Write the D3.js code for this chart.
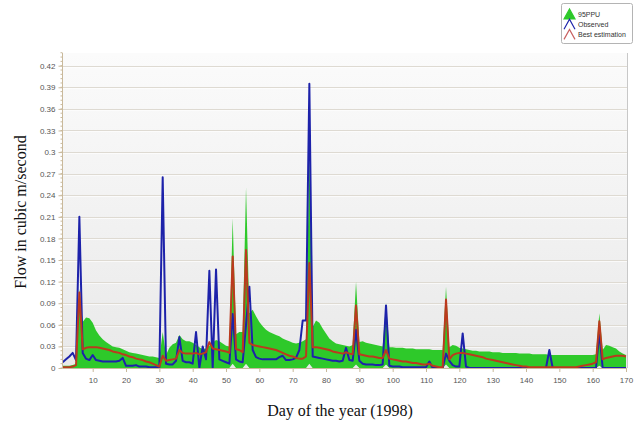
<!DOCTYPE html>
<html><head><meta charset="utf-8">
<script src="https://cdn.jsdelivr.net/npm/d3@7"></script>
<style>body{margin:0;background:#fff}svg{display:block}</style>
</head><body>
<svg id="c" width="636" height="423"></svg>
<script>
// Day of year 1..170
const days = d3.range(1, 171);
const observed = [
0.008,0.012,0.016,0.021,0.011,0.21,0.021,0.013,0.011,0.018,
0.011,0.010,0.009,0.009,0.009,0.009,0.009,0.010,0.014,0.003,
0.003,0.003,0.004,0.002,0.002,0.002,0.001,0.001,0.001,0.001,
0.265,0.006,0.005,0.005,0.010,0.043,0.010,0.008,0.008,0.006,
0.050,0.000,0.030,0.012,0.135,0.000,0.137,0.012,0.010,0.008,
0.006,0.075,0.012,0.009,0.008,0.060,0.113,0.025,0.015,0.013,
0.012,0.012,0.012,0.012,0.012,0.015,0.017,0.011,0.011,0.012,
0.014,0.025,0.066,0.066,0.395,0.016,0.015,0.014,0.013,0.012,
0.011,0.010,0.010,0.009,0.010,0.028,0.011,0.010,0.053,0.010,
0.006,0.005,0.005,0.005,0.004,0.004,0.005,0.087,0.003,0.002,
0.002,0.002,0.001,0.001,0.001,0.001,0.001,0.001,0.001,0.001,
0.009,0.000,0.000,0.000,0.000,0.020,0.010,0.004,0.002,0.002,
0.048,0.002,0.000,0.000,0.000,0.000,0.000,0.000,0.000,0.000,
0.000,0.000,0.000,0.000,0.000,0.000,0.000,0.000,0.000,0.000,
0.000,0.000,0.000,0.000,0.000,0.000,0.025,0.000,0.000,0.000,
0.000,0.000,0.000,0.000,0.000,0.000,0.000,0.000,0.000,0.000,
0.000,0.050,0.000,0.000,0.000,0.000,0.000,0.000,0.000,0.000];
const bestEstimation = [
0.001,0.001,0.001,0.002,0.004,0.105,0.026,0.028,0.029,0.029,
0.029,0.028,0.027,0.026,0.025,0.023,0.022,0.021,0.019,0.018,
0.016,0.015,0.013,0.012,0.011,0.009,0.008,0.006,0.004,0.002,
0.017,0.010,0.011,0.012,0.013,0.025,0.021,0.020,0.020,0.020,
0.021,0.019,0.020,0.022,0.036,0.027,0.026,0.025,0.024,0.023,
0.021,0.155,0.026,0.025,0.022,0.164,0.035,0.032,0.031,0.030,
0.029,0.028,0.027,0.026,0.025,0.023,0.021,0.019,0.017,0.016,
0.014,0.013,0.013,0.016,0.146,0.029,0.029,0.028,0.027,0.026,
0.025,0.023,0.022,0.021,0.020,0.022,0.020,0.019,0.087,0.019,
0.018,0.017,0.016,0.016,0.015,0.014,0.014,0.025,0.013,0.012,
0.011,0.010,0.009,0.009,0.008,0.007,0.007,0.006,0.005,0.005,
0.006,0.003,0.002,0.001,0.001,0.095,0.012,0.018,0.020,0.021,
0.021,0.020,0.019,0.018,0.017,0.016,0.015,0.013,0.012,0.011,
0.010,0.009,0.008,0.007,0.006,0.005,0.004,0.003,0.002,0.002,
0.001,0.001,0.001,0.001,0.001,0.001,0.001,0.001,0.001,0.001,
0.001,0.001,0.001,0.001,0.001,0.002,0.003,0.004,0.005,0.006,
0.008,0.065,0.012,0.014,0.015,0.016,0.017,0.017,0.017,0.016];
const ppuUpper = [
0.003,0.003,0.003,0.004,0.006,0.110,0.064,0.070,0.069,0.063,
0.052,0.045,0.040,0.036,0.033,0.030,0.029,0.028,0.026,0.024,
0.022,0.021,0.020,0.019,0.018,0.017,0.016,0.016,0.015,0.014,
0.050,0.018,0.028,0.033,0.035,0.046,0.040,0.037,0.037,0.035,
0.032,0.029,0.026,0.027,0.031,0.035,0.039,0.037,0.034,0.031,
0.030,0.208,0.047,0.050,0.050,0.251,0.076,0.081,0.072,0.064,
0.058,0.053,0.050,0.048,0.046,0.044,0.041,0.039,0.037,0.035,
0.034,0.035,0.037,0.040,0.300,0.057,0.066,0.063,0.055,0.048,
0.041,0.037,0.034,0.033,0.032,0.031,0.030,0.032,0.120,0.036,
0.037,0.035,0.034,0.033,0.032,0.031,0.030,0.090,0.029,0.029,
0.028,0.028,0.028,0.027,0.027,0.027,0.026,0.026,0.026,0.026,
0.026,0.025,0.025,0.025,0.025,0.113,0.029,0.032,0.031,0.028,
0.027,0.026,0.025,0.024,0.024,0.023,0.023,0.023,0.023,0.022,
0.022,0.022,0.021,0.021,0.021,0.021,0.021,0.020,0.020,0.020,
0.020,0.019,0.019,0.019,0.019,0.019,0.018,0.018,0.018,0.018,
0.018,0.018,0.018,0.018,0.018,0.018,0.018,0.018,0.018,0.018,
0.019,0.076,0.025,0.032,0.031,0.029,0.027,0.023,0.020,0.018];
const ppuLower = [
0,0,0,0,0,0,0,0,0,0, 0,0,0,0,0,0,0,0,0,0,
0,0,0,0,0,0,0,0,0,0, 0,0,0,0,0,0,0,0,0,0,
0,0,0,0,0,0,0,0,0,0, 0,0.006,0,0,0,0.006,0,0,0,0,
0,0,0,0,0,0,0,0,0,0, 0,0,0,0,0.006,0,0,0,0,0,
0,0,0,0,0,0,0,0,0.005,0, 0,0,0,0,0,0,0,0.005,0,0,
0,0,0,0,0,0,0,0,0,0, 0,0,0,0,0,0.005,0,0,0,0,
0,0,0,0,0,0,0,0,0,0, 0,0,0,0,0,0,0,0,0,0,
0,0,0,0,0,0,0,0,0,0, 0,0,0,0,0,0,0,0,0,0,
0,0.003,0,0,0,0,0,0,0,0];
const yTicks = [0,0.03,0.06,0.09,0.12,0.15,0.18,0.21,0.24,0.27,0.3,0.33,0.36,0.39,0.42];
const xTicks = [10,20,30,40,50,60,70,80,90,100,110,120,130,140,150,160,170];
const legendItems = ["95PPU","Observed","Best estimation"];

const svg = d3.select("#c");
const L = 62.5, R = 627, T = 53, B = 368;
const x = d3.scaleLinear().domain([1,170]).range([62.7,626]);
const y = d3.scaleLinear().domain([0,0.42]).range([B,65.7]);

const defs = svg.append("defs");
const g = defs.append("linearGradient").attr("id","bg").attr("x1",0).attr("y1",0).attr("x2",0).attr("y2",1);
g.append("stop").attr("offset","0%").attr("stop-color","#fbfbfb");
g.append("stop").attr("offset","100%").attr("stop-color","#e9e9e9");
defs.append("clipPath").attr("id","clip").append("rect").attr("x",L).attr("y",T).attr("width",R-L).attr("height",B-T+1);

svg.append("rect").attr("x",L).attr("y",T).attr("width",R-L).attr("height",B-T).attr("fill","url(#bg)");

// grid
svg.append("g").selectAll("line").data(yTicks.filter(d=>d>0)).join("line")
  .attr("x1",L).attr("x2",R).attr("y1",d=>Math.round(y(d))+0.5).attr("y2",d=>Math.round(y(d))+0.5)
  .attr("stroke","#dedad2").attr("stroke-width",1);
svg.append("g").selectAll("line").data(yTicks.filter(d=>d>0)).join("line")
  .attr("x1",L).attr("x2",R).attr("y1",d=>Math.round(y(d))+1.5).attr("y2",d=>Math.round(y(d))+1.5)
  .attr("stroke","#ffffff").attr("stroke-width",1).attr("opacity",0.7);

const plot = svg.append("g").attr("clip-path","url(#clip)");
const band = days.map((d,i)=>({d, lo: ppuLower[i], hi: ppuUpper[i]}));
plot.append("path").datum(band)
  .attr("d", d3.area().x(p=>x(p.d)).y0(p=>y(p.lo)).y1(p=>y(p.hi)))
  .attr("fill","#2ec92a");
plot.append("path").datum(days.map((d,i)=>[d,observed[i]]))
  .attr("d", d3.line().x(p=>x(p[0])).y(p=>y(p[1])))
  .attr("fill","none").attr("stroke","#1d22aa").attr("stroke-width",2).attr("stroke-linejoin","round");
plot.append("path").datum(days.map((d,i)=>[d,bestEstimation[i]]))
  .attr("d", d3.line().x(p=>x(p[0])).y(p=>y(p[1])))
  .attr("fill","none").attr("stroke","#bb3a1e").attr("stroke-width",2).attr("stroke-linejoin","round");

// axes
const axisColor = "#c9b99b";
const yAxis = svg.append("g").attr("transform",`translate(${L},0)`)
  .call(d3.axisLeft(y).tickValues(yTicks).tickSize(4).tickFormat(d=>String(+d.toFixed(2))));
const xAxis = svg.append("g").attr("transform",`translate(0,${B})`)
  .call(d3.axisBottom(x).tickValues(xTicks).tickSize(4).tickFormat(d=>d));
[yAxis,xAxis].forEach(a=>{
  a.select(".domain").remove();
  a.selectAll(".tick line").attr("stroke",axisColor);
  a.selectAll(".tick text").attr("fill","#555").style("font-family","'Liberation Sans',Arial,sans-serif").style("font-size","8px");
});
yAxis.selectAll(".tick text").attr("x",-7);
xAxis.selectAll(".tick text").attr("y",9);
// minor y ticks
svg.append("g").selectAll("line").data(d3.range(0,0.4381,0.006)).join("line")
  .attr("x1",L-2).attr("x2",L).attr("y1",d=>y(d)).attr("y2",d=>y(d)).attr("stroke",axisColor);
svg.append("line").attr("x1",L).attr("x2",L).attr("y1",T).attr("y2",B).attr("stroke",axisColor);
svg.append("line").attr("x1",L).attr("x2",R).attr("y1",B+0.5).attr("y2",B+0.5).attr("stroke",axisColor);
svg.append("line").attr("x1",R+0.5).attr("x2",R+0.5).attr("y1",T).attr("y2",B).attr("stroke","#c8c8c8");

// titles
svg.append("text").attr("transform","translate(26,212) rotate(-90)").attr("text-anchor","middle")
  .style("font-family","'Liberation Serif','Times New Roman',serif").style("font-size","16px").attr("fill","#111")
  .text("Flow in cubic m/second");
svg.append("text").attr("x",340).attr("y",416).attr("text-anchor","middle")
  .style("font-family","'Liberation Serif','Times New Roman',serif").style("font-size","16px").attr("fill","#111")
  .text("Day of the year (1998)");

// legend
const lg = svg.append("g");
lg.append("rect").attr("x",561.5).attr("y",3.5).attr("width",71).attr("height",40).attr("rx",2)
  .attr("fill","#fff").attr("stroke","#b4b4b4");
const lcol = [{fill:"#2ec92a",stroke:"#2ec92a"},{fill:"none",stroke:"#1d22aa"},{fill:"none",stroke:"#c86060"}];
legendItems.forEach((t,i)=>{
  const cy = 14 + i*10.2;
  lg.append("path").attr("d",`M564,${cy+5}L569.5,${cy-5}L575,${cy+5}${i===0?"Z":""}`)
    .attr("fill",lcol[i].fill).attr("stroke",lcol[i].stroke).attr("stroke-width",1.2);
  lg.append("text").attr("x",578).attr("y",cy+2.5).text(t)
    .style("font-family","'Liberation Sans',Arial,sans-serif").style("font-size","7px").attr("fill","#333");
});
</script>
</body></html>
